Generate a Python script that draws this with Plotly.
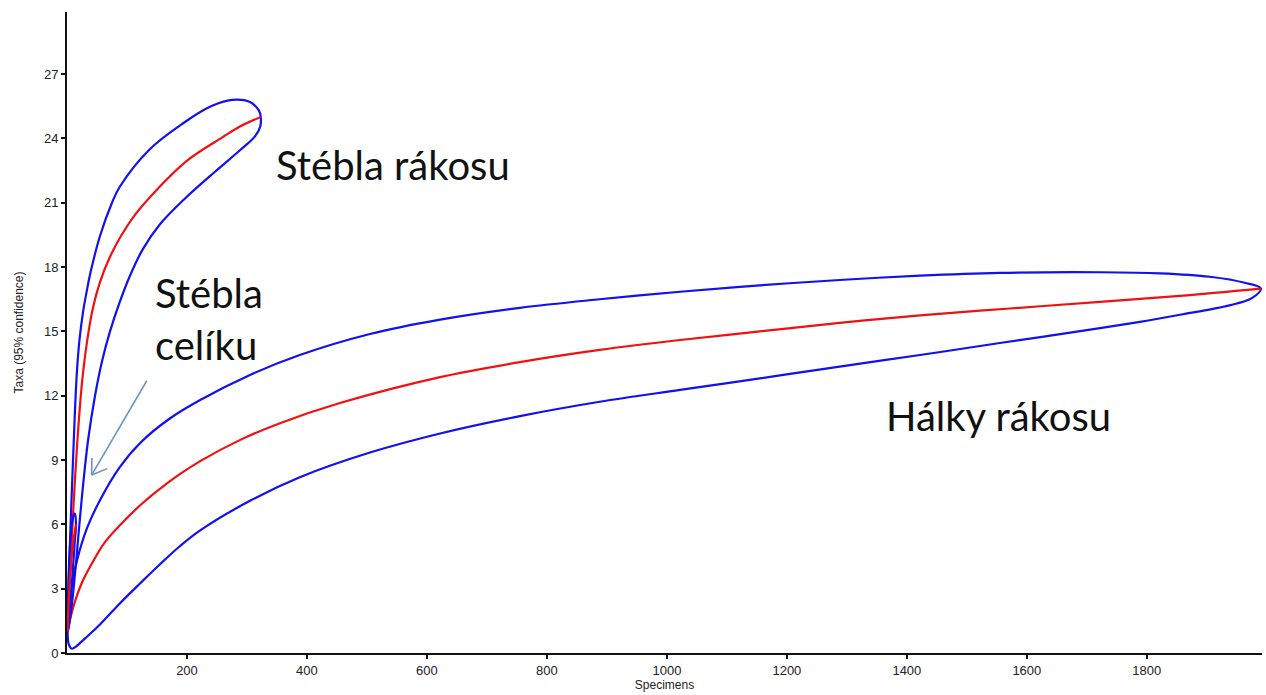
import plotly.graph_objects as go

# Rarefaction curves: mean (red) and 95% confidence band (blue)

# Hálky rákosu
hal_mean_x = [1, 6.7, 15, 25, 38, 63, 93, 122, 150, 188, 222, 288, 355, 455, 622,
              755, 888, 1022, 1155, 1288, 1422, 1572, 1722, 1855, 1990]
hal_mean_y = [1.0, 1.75, 2.55, 3.29, 4.0, 5.16, 6.1, 6.89, 7.55, 8.34, 8.95, 9.93, 10.72,
              11.66, 12.87, 13.57, 14.14, 14.6, 15.0, 15.4, 15.75, 16.07, 16.38, 16.66, 17.0]
hal_up_x = [1, 3.3, 8.3, 16.7, 33, 55, 88, 122, 172, 222, 305, 388, 505, 622, 755, 888,
            1022, 1155, 1288, 1422, 1555, 1722, 1822, 1905, 1963, 1990]
hal_up_y = [1.0, 2.0, 3.15, 4.32, 5.8, 7.13, 8.67, 9.8, 10.95, 11.8, 12.97, 13.9, 14.88,
            15.55, 16.1, 16.5, 16.85, 17.15, 17.4, 17.6, 17.73, 17.76, 17.71, 17.55, 17.27, 17.0]
hal_lo_x = [1, 3, 8, 15, 30, 55, 88, 122, 155, 188, 222, 305, 388, 505, 622, 755, 888,
            1022, 1155, 1288, 1422, 1555, 1722, 1800, 1860, 1910, 1950, 1975, 1990]
hal_lo_y = [1.0, 0.4, 0.2, 0.3, 0.68, 1.33, 2.31, 3.25, 4.14, 4.98, 5.72, 7.1, 8.2, 9.35,
            10.24, 11.05, 11.72, 12.27, 12.81, 13.36, 13.9, 14.46, 15.15, 15.5, 15.8, 16.05,
            16.3, 16.55, 17.0]

# Stébla rákosu
str_mean_x = [1, 3.3, 5.8, 8.3, 10.8, 13.3, 18.3, 25, 33.3, 43.3, 55, 71.7, 88.3, 113.3,
              146.7, 201.7, 258.3, 288.3, 323]
str_mean_y = [1.0, 2.6, 4.1, 5.5, 6.85, 8.1, 10.3, 12.6, 14.5, 16.1, 17.3, 18.48,
              19.37, 20.44, 21.52, 23.0, 24.04, 24.56, 25.0]
str_up_x = [1, 2.5, 6, 10, 13.3, 16.7, 20.8, 26.7, 33.3, 40, 55, 75, 88, 138, 193, 240,
            275, 305, 320, 323]
str_up_y = [1.0, 3.0, 6.0, 9.0, 11.33, 13.2, 14.6, 15.9, 16.94, 17.85, 19.45, 21.0, 21.75,
            23.5, 24.7, 25.5, 25.8, 25.7, 25.3, 25.0]
str_lo_x = [1, 1.7, 8.3, 15, 20, 26.7, 35, 46.7, 58.3, 71.7, 88.3, 105, 126.7, 155,
            196.7, 246.7, 288.3, 313.3, 322, 323]
str_lo_y = [1.0, 1.05, 2.3, 4.2, 5.8, 7.8, 9.9, 12.0, 13.6, 15.0, 16.4, 17.6, 18.85,
            20.0, 21.2, 22.45, 23.45, 24.1, 24.55, 25.0]

# Stébla celíku
cel_mean_x = [1, 3, 6, 9, 12, 15]
cel_mean_y = [1, 2.5, 3.8, 4.8, 5.5, 6.0]
cel_up_x = [1, 2, 4, 7, 10, 13, 15]
cel_up_y = [1, 2.8, 4.5, 5.7, 6.3, 6.5, 6.0]
cel_lo_x = [1, 4, 7, 10, 13, 15]
cel_lo_y = [1, 1.6, 2.8, 4.0, 5.2, 6.0]

x_ticks = [200, 400, 600, 800, 1000, 1200, 1400, 1600, 1800]
y_ticks = [0, 3, 6, 9, 12, 15, 18, 21, 24, 27]

BLUE = "#1010f0"
RED = "#f01010"

fig = go.Figure()


def add_sample(mx, my, ux, uy, lx, ly):
    # band drawn as one path: upper bound out to N, lower bound back to the start
    band_x = list(ux) + list(lx[::-1])[1:]
    band_y = list(uy) + list(ly[::-1])[1:]
    fig.add_trace(go.Scatter(x=band_x, y=band_y, mode="lines",
                             line=dict(color=BLUE, width=2.2, shape="spline", smoothing=1),
                             hoverinfo="skip", showlegend=False))
    fig.add_trace(go.Scatter(x=mx, y=my, mode="lines",
                             line=dict(color=RED, width=2.2, shape="spline", smoothing=1),
                             showlegend=False))


add_sample(hal_mean_x, hal_mean_y, hal_up_x, hal_up_y, hal_lo_x, hal_lo_y)
add_sample(str_mean_x, str_mean_y, str_up_x, str_up_y, str_lo_x, str_lo_y)
add_sample(cel_mean_x, cel_mean_y, cel_up_x, cel_up_y, cel_lo_x, cel_lo_y)

label_font = dict(family="Lato, 'Open Sans', sans-serif", size=40, color="#111111")
fig.add_annotation(x=543, y=22.75, text="Stébla rákosu", showarrow=False,
                   font=label_font, xanchor="center", yanchor="middle")
fig.add_annotation(x=143, y=15.6, text="Stébla<br>celíku", showarrow=False,
                   font=label_font, xanchor="left", yanchor="middle", align="left")
fig.add_annotation(x=1552, y=11.05, text="Hálky rákosu", showarrow=False,
                   font=label_font, xanchor="center", yanchor="middle")

# pointer towards the small celíku curve
arrow_col = "#6a95c8"
fig.add_shape(type="line", x0=133, y0=12.7, x1=41, y1=8.3,
              line=dict(color=arrow_col, width=1.6), xref="x", yref="y")
fig.add_shape(type="line", x0=41, y0=8.3, x1=67, y1=8.6,
              line=dict(color=arrow_col, width=1.6), xref="x", yref="y")
fig.add_shape(type="line", x0=41, y0=8.3, x1=41.5, y1=9.1,
              line=dict(color=arrow_col, width=1.6), xref="x", yref="y")

tick_font = dict(family="Liberation Sans, Arial, sans-serif", size=13, color="#222222")
title_font = dict(family="Liberation Sans, Arial, sans-serif", size=12, color="#222222")
fig.update_layout(
    width=1266, height=695,
    margin=dict(l=67, r=4, t=12, b=42),
    paper_bgcolor="white", plot_bgcolor="white",
    xaxis=dict(range=[0, 1992], tickvals=x_ticks, ticks="outside", ticklen=4,
               tickwidth=1.5, tickcolor="#111111",
               showline=True, linecolor="#111111", linewidth=1.8,
               showgrid=False, zeroline=False, tickfont=tick_font,
               title=dict(text="Specimens", standoff=4, font=title_font)),
    yaxis=dict(range=[0, 29.9], tickvals=y_ticks, ticks="outside", ticklen=4,
               tickwidth=1.5, tickcolor="#111111",
               showline=True, linecolor="#111111", linewidth=1.8,
               showgrid=False, zeroline=False, tickfont=tick_font,
               title=dict(text="Taxa (95% confidence)", standoff=18, font=title_font)),
)

fig.write_html("out.html")
